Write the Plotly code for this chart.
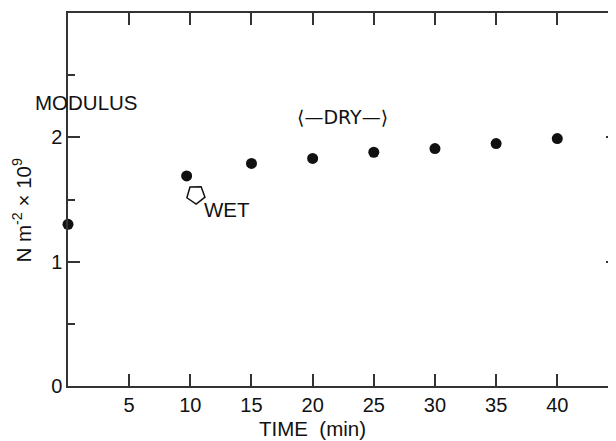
import plotly.graph_objects as go

# Data
time_min = [0, 9.7, 15, 20, 25, 30, 35, 40]
modulus = [1.30, 1.69, 1.79, 1.83, 1.88, 1.91, 1.95, 1.99]

x_ticks = [5, 10, 15, 20, 25, 30, 35, 40]
x_tick_labels = ["5", "10", "15", "20", "25", "30", "35", "40"]
y_ticks = [0, 1, 2]
y_tick_labels = ["0", "1", "2"]

FONT = "Liberation Sans, Arial, sans-serif"
INK = "#111111"
LINE = "#333333"
FS = 20

fig = go.Figure()
fig.add_trace(go.Scatter(
    x=time_min, y=modulus, mode="markers",
    marker=dict(color=INK, size=11, line=dict(width=0)),
    cliponaxis=False, showlegend=False, hoverinfo="skip",
))
# wet arrow marker (open pentagon, pointing left-down)
fig.add_trace(go.Scatter(
    x=[10.45], y=[1.54], mode="markers",
    marker=dict(symbol="pentagon-open", size=19, angle=-110,
                color=INK, line=dict(width=1.5, color=INK)),
    showlegend=False, hoverinfo="skip",
))
# invisible trace to carry the right-hand tick axis
fig.add_trace(go.Scatter(x=[0], y=[0], yaxis="y2", mode="markers",
                         marker=dict(opacity=0), showlegend=False, hoverinfo="skip"))

fig.update_layout(
    width=608, height=433,
    margin=dict(l=60, r=0, t=5, b=55, autoexpand=False),
    paper_bgcolor="white", plot_bgcolor="white",
    font=dict(family=FONT, size=FS, color=INK),
    xaxis=dict(
        range=[0, 44.8], tickvals=x_ticks, ticktext=x_tick_labels,
        ticks="inside", ticklen=12, tickwidth=1.5, tickcolor=LINE,
        showline=True, linewidth=1.5, linecolor=LINE, mirror="ticks",
        showgrid=False, zeroline=False, automargin=False,
        tickfont=dict(family=FONT, size=FS, color=INK),
    ),
    yaxis=dict(
        range=[0, 3], tickvals=y_ticks, ticktext=y_tick_labels,
        ticks="inside", ticklen=12, tickwidth=1.5, tickcolor=LINE,
        minor=dict(dtick=0.5, ticks="inside", ticklen=7, tickwidth=1.5, tickcolor=LINE),
        showline=True, linewidth=1.5, linecolor=LINE,
        showgrid=False, zeroline=False, automargin=False,
        tickfont=dict(family=FONT, size=FS, color=INK),
    ),
    yaxis2=dict(
        overlaying="y", side="right", range=[0, 3], tickvals=y_ticks,
        ticks="inside", ticklen=10, tickwidth=1.5, tickcolor=LINE,
        minor=dict(dtick=0.5, ticks="inside", ticklen=4, tickwidth=1.5, tickcolor=LINE),
        showticklabels=False, showline=False, showgrid=False, zeroline=False,
        automargin=False,
    ),
)

ann_font = dict(family=FONT, size=20.5, color=INK)
fig.add_annotation(x=1.5, y=2.28, xref="x", yref="y", text="MODULUS",
                   xanchor="center", yanchor="middle",
                   showarrow=False, font=ann_font)
fig.add_annotation(x=22.47, y=2.16, xref="x", yref="y",
                   text="⟨—DRY—⟩", showarrow=False,
                   xanchor="center", yanchor="middle",
                   font=dict(family="DejaVu Sans, " + FONT, size=19, color=INK))
fig.add_annotation(x=12.97, y=1.42, xref="x", yref="y", text="WET",
                   xanchor="center", yanchor="middle",
                   showarrow=False, font=ann_font)
fig.add_annotation(x=20.0, y=-0.113, xref="x", yref="paper",
                   xanchor="center", yanchor="middle",
                   text="TIME\u00a0\u00a0(min)", showarrow=False, font=ann_font)
fig.add_annotation(x=-0.084, y=0.473, xref="paper", yref="paper",
                   xanchor="center", yanchor="middle",
                   text="N m<sup>-2</sup> × 10<sup>9</sup>", textangle=-90,
                   showarrow=False, font=ann_font)

fig.write_html("out.html")
